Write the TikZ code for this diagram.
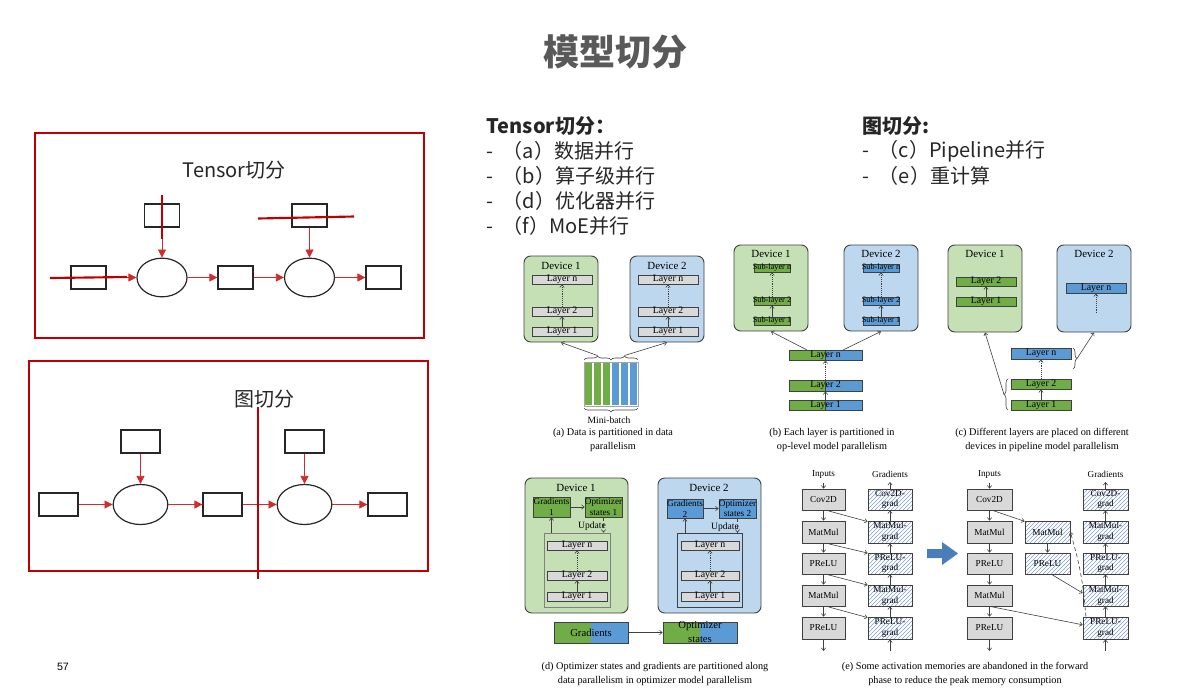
\documentclass[tikz,border=0pt]{standalone}
\usepackage{fontspec}
\setmainfont{Liberation Serif}
\newfontfamily\cjk{Noto Sans CJK SC}
\newfontfamily\arial{Liberation Sans}
\usetikzlibrary{arrows.meta,shapes.geometric,fit,patterns,decorations.pathreplacing,calc}
\definecolor{dkred}{HTML}{C00000}
\definecolor{arred}{HTML}{D22B2B}
\definecolor{devg}{HTML}{C5E0B4}
\definecolor{devb}{HTML}{BDD7EE}
\definecolor{barg}{HTML}{70AD47}
\definecolor{barb}{HTML}{5B9BD5}
\definecolor{lgray}{HTML}{D9D9D9}
\definecolor{edge}{HTML}{404040}
\definecolor{hatchc}{HTML}{7F9FCF}
\definecolor{titlec}{HTML}{595959}
\definecolor{txt}{HTML}{262626}
\definecolor{bigarr}{HTML}{4A7EBB}
\newcommand\fsz[2]{\fontsize{#1}{#2}\selectfont}
\tikzset{
  redframe/.style={draw=dkred, line width=1pt, inner sep=0pt},
  cbox/.style={draw=black!85, line width=0.9pt, fill=white, inner sep=0pt},
  ell/.style={ellipse, draw=black!85, line width=0.9pt, inner sep=0pt},
  rarr/.style={draw=arred, line width=0.6pt, -{Triangle[length=6pt,width=6pt]}},
  cutline/.style={draw=dkred, line width=1.6pt},
  lst/.style={anchor=west, font=\cjk\fsz{15}{18}, text=txt},
  dev/.style={draw=edge, line width=0.7pt, rounded corners=5pt, inner sep=0pt},
  devt/.style={font=\fsz{8.2}{9}},
  lay/.style={draw=edge, line width=0.5pt, inner sep=0pt},
  sarr/.style={draw=edge, line width=0.45pt, -{Straight Barb[length=2pt,width=3.2pt]}},
  dotarr/.style={sarr, densely dotted},
  hatchbox/.style={lay, pattern=north east lines, pattern color=hatchc},
  brc/.style={draw=edge, line width=0.45pt, decorate, decoration={brace, amplitude=3pt}},
  Lbl/.style={label={[font=\fsz{7.4}{8.2}, align=center, inner sep=0pt]center:#1}},
  Ebl/.style={label={[font=\fsz{6.9}{8}, align=center, inner sep=0pt]center:#1}},
  Sbl/.style={label={[font=\fsz{6.2}{7}, align=center, inner sep=0pt]center:#1}},
  Bbl/.style={label={[font=\fsz{8}{10.5}, align=center, inner sep=0pt]center:#1}},
  captxt/.style={font=\fsz{7.7}{10.5}, align=center},
}
\begin{document}
\begin{tikzpicture}[x=0.75pt,y=-0.75pt]
\useasboundingbox (0,0) rectangle (1202,689);

\node[font=\cjk\bfseries\fsz{27}{30}, text=titlec] (title) at (615,52) {模型切分};

% ---------- left box 1 : Tensor ----------
\node[redframe, fit={(35,133)(424,338)}] (fr1) {};
\node[font=\cjk\fsz{15}{18}, text=txt] (lab1) at (234,170) {Tensor切分};
\node[cbox, fit={(144.5,204)(179.5,227)}] (a1t) {};
\node[cbox, fit={(71,266)(106,289)}] (a1l) {};
\node[cbox, fit={(218,266)(253,289)}] (a1m) {};
\node[cbox, fit={(292,204)(327,227)}] (a2t) {};
\node[cbox, fit={(366,266)(401,289)}] (a1r) {};
\node[ell, minimum width=37.5pt, minimum height=29pt] (a1e) at (162,277.5) {};
\node[ell, minimum width=37.5pt, minimum height=29pt] (a2e) at (309.5,277.5) {};
\draw[rarr] (a1l) -- (a1e);
\draw[rarr] (a1t) -- (a1e);
\draw[rarr] (a1e) -- (a1m);
\draw[rarr] (a1m) -- (a2e);
\draw[rarr] (a2t) -- (a2e);
\draw[rarr] (a2e) -- (a1r);
\draw[cutline] (162,195) -- (162,239);
\draw[cutline] (50,278) -- (127,277);
\draw[cutline] (258,218.5) -- (354,216.5);

% ---------- left box 2 : graph ----------
\node[redframe, fit={(29,361)(428,571)}] (fr2) {};
\node[font=\cjk\fsz{15}{18}, text=txt] (lab2) at (264,399) {图切分};
\node[cbox, fit={(121,430)(160,453)}] (b1t) {};
\node[cbox, fit={(39,493)(78,516)}] (b1l) {};
\node[cbox, fit={(203,493)(242,516)}] (b1m) {};
\node[cbox, fit={(285,430)(324,453)}] (b2t) {};
\node[cbox, fit={(368,493)(407,516)}] (b1r) {};
\node[ell, minimum width=41pt, minimum height=30pt] (b1e) at (140.5,504.5) {};
\node[ell, minimum width=41pt, minimum height=30pt] (b2e) at (304.5,504.5) {};
\draw[rarr] (b1l) -- (b1e);
\draw[rarr] (b1t) -- (b1e);
\draw[rarr] (b1e) -- (b1m);
\draw[rarr] (b1m) -- (b2e);
\draw[rarr] (b2t) -- (b2e);
\draw[rarr] (b2e) -- (b1r);
\draw[cutline] (258,407) -- (258,579);

% ---------- lists ----------
\node[lst, font=\cjk\bfseries\fsz{15}{18}] (h1) at (482,126) {Tensor切分：};
\node[lst] (i1) at (482,151) {-\hspace{7pt}（a）数据并行};
\node[lst] (i2) at (482,176) {-\hspace{7pt}（b）算子级并行};
\node[lst] (i3) at (482,201) {-\hspace{7pt}（d）优化器并行};
\node[lst] (i4) at (482,226) {-\hspace{7pt}（f）MoE并行};
\node[lst, font=\cjk\bfseries\fsz{15}{18}] (h2) at (858,126) {图切分:};
\node[lst] (j1) at (858,151) {-\hspace{7pt}（c）Pipeline并行};
\node[lst] (j2) at (858,176) {-\hspace{7pt}（e）重计算};

\node[font=\arial\fsz{8}{9}] (pg) at (63,667) {57};

% ---------- panel (a) ----------
\node[dev, fill=devg, fit={(524,256)(598,342)}] (aD1) {};
\node[devt] (aD1t) at (561,266) {Device 1};
\node[lay, fill=lgray, fit={(532,275)(592,284)}, Lbl={Layer n}] (aD1n) {};
\node[lay, fill=lgray, fit={(532,307)(592,316)}, Lbl={Layer 2}] (aD1b) {};
\node[lay, fill=lgray, fit={(532,327)(592,336)}, Lbl={Layer 1}] (aD1a) {};
\draw[sarr] (aD1a) -- (aD1b);
\draw[dotarr] (aD1b) -- (aD1n);
\node[dev, fill=devb, fit={(630,256)(704,342)}] (aD2) {};
\node[devt] (aD2t) at (667,266) {Device 2};
\node[lay, fill=lgray, fit={(638,275)(698,284)}, Lbl={Layer n}] (aD2n) {};
\node[lay, fill=lgray, fit={(638,307)(698,316)}, Lbl={Layer 2}] (aD2b) {};
\node[lay, fill=lgray, fit={(638,327)(698,336)}, Lbl={Layer 1}] (aD2a) {};
\draw[sarr] (aD2a) -- (aD2b);
\draw[dotarr] (aD2b) -- (aD2n);
\foreach \i in {0,1,2} {
  \draw[fill=barg, draw=white, line width=0.8pt] ({584+9*\i},362) rectangle ({593+9*\i},406);
  \draw[fill=barb, draw=white, line width=0.8pt] ({611+9*\i},362) rectangle ({620+9*\i},406);
}
\node[draw=gray!70, line width=0.4pt, inner sep=0pt, fit={(584,362)(638,406)}] (mb) {};
\draw[brc] (584,360) -- (611,360);
\draw[brc] (611,360) -- (638,360);
\draw[brc] (638,408) -- (584,408);
\coordinate (abr1) at (597.5,355.5);
\coordinate (abr2) at (624.5,355.5);
\draw[sarr] (abr1) -- (aD1.south);
\draw[sarr] (abr2) -- (aD2.south);
\node[font=\fsz{7.2}{8}] (mbl) at (609,420) {Mini-batch};
\node[captxt] (capa) at (613,440) {(a) Data is partitioned in data\\parallelism};

% ---------- panel (b) ----------
\node[dev, fill=devg, fit={(734,245)(808,331)}] (bD1) {};
\node[devt] (bD1t) at (771,254) {Device 1};
\node[lay, fill=barg, fit={(754,264)(790,272)}, Sbl={Sub-layer n}] (bD1n) {};
\node[lay, fill=barg, fit={(754,297)(790,305)}, Sbl={Sub-layer 2}] (bD1b) {};
\node[lay, fill=barg, fit={(754,317)(790,325)}, Sbl={Sub-layer 1}] (bD1a) {};
\draw[sarr] (bD1a) -- (bD1b);
\draw[dotarr] (bD1b) -- (bD1n);
\node[dev, fill=devb, fit={(844,245)(918,331)}] (bD2) {};
\node[devt] (bD2t) at (881,254) {Device 2};
\node[lay, fill=barb, fit={(863,264)(899,272)}, Sbl={Sub-layer n}] (bD2n) {};
\node[lay, fill=barb, fit={(863,297)(899,305)}, Sbl={Sub-layer 2}] (bD2b) {};
\node[lay, fill=barb, fit={(863,317)(899,325)}, Sbl={Sub-layer 1}] (bD2a) {};
\draw[sarr] (bD2a) -- (bD2b);
\draw[dotarr] (bD2b) -- (bD2n);
\fill[barg] (789,350) rectangle (825,360); \fill[barb] (825,350) rectangle (862,360);
\fill[barg] (789,380) rectangle (825,391); \fill[barb] (825,380) rectangle (862,391);
\fill[barg] (789,400) rectangle (825,410); \fill[barb] (825,400) rectangle (862,410);
\node[lay, fit={(789,350)(862,360)}, Lbl={Layer n}] (bLn) {};
\node[lay, fit={(789,380)(862,391)}, Lbl={Layer 2}] (bL2) {};
\node[lay, fit={(789,400)(862,410)}, Lbl={Layer 1}] (bL1) {};
\draw[edge, line width=0.9pt] (bLn.north) -- (bLn.south);
\draw[edge, line width=0.9pt] (bL2.north) -- (bL2.south);
\draw[edge, line width=0.9pt] (bL1.north) -- (bL1.south);
\draw[sarr] (bL1) -- (bL2);
\draw[dotarr] (bL2) -- (bLn);
\coordinate (bLnl) at (807,350);
\coordinate (bLnr) at (843,350);
\draw[sarr] (bLnl) -- (bD1.south);
\draw[sarr] (bLnr) -- (bD2.south);
\node[captxt] (capb) at (832,440) {(b) Each layer is partitioned in\\op-level model parallelism};

% ---------- panel (c) ----------
\node[dev, fill=devg, fit={(948,245)(1022,332)}] (cD1) {};
\node[devt] (cD1t) at (985,254) {Device 1};
\node[lay, fill=barg, fit={(956,277)(1016,286)}, Lbl={Layer 2}] (cD1b) {};
\node[lay, fill=barg, fit={(956,297)(1016,306)}, Lbl={Layer 1}] (cD1a) {};
\draw[sarr] (cD1a) -- (cD1b);
\node[dev, fill=devb, fit={(1057,245)(1131,332)}] (cD2) {};
\node[devt] (cD2t) at (1094,254) {Device 2};
\node[lay, fill=barb, fit={(1066,283)(1126,293)}, Lbl={Layer n}] (cD2n) {};
\coordinate (cdots) at (1096,313);
\draw[dotarr] (cdots) -- (cD2n.south);
\node[lay, fill=barb, fit={(1011,348)(1071,359)}, Lbl={Layer n}] (cLn) {};
\node[lay, fill=barg, fit={(1011,379)(1071,389)}, Lbl={Layer 2}] (cL2) {};
\node[lay, fill=barg, fit={(1011,400)(1071,410)}, Lbl={Layer 1}] (cL1) {};
\draw[sarr] (cL1) -- (cL2);
\draw[dotarr] (cL2) -- (cLn);
\draw[brc] (1008,410) -- (1008,379);
\draw[brc] (1073,348) -- (1073,369);
\coordinate (cbl) at (1004,394.5);
\coordinate (cbr) at (1077,358.5);
\draw[sarr] (cbl) -- (cD1.south);
\draw[sarr] (cbr) -- (cD2.south);
\node[captxt] (capc) at (1042,440) {(c) Different layers are placed on different\\devices in pipeline model parallelism};

% ---------- panel (d) ----------
\node[dev, fill=devg, fit={(525,478)(628,613)}] (dD1) {};
\node[devt] (dD1t) at (576,488) {Device 1};
\node[lay, fill=barg, fit={(533,497)(570,517)}, Ebl={Gradients\\1}] (dG1) {};
\node[lay, fill=barg, fit={(585,497)(622,517)}, Ebl={Optimizer\\states 1}] (dO1) {};
\draw[sarr] (dG1) -- (dO1);
\node[font=\fsz{7.2}{8}] (dU1) at (592,526) {Update};
\node[draw=gray, line width=0.5pt, inner sep=0pt, fit={(544,533)(610,607)}] (dC1) {};
\node[lay, fill=lgray, fit={(547,541)(607,550)}, Lbl={Layer n}] (dL1n) {};
\node[lay, fill=lgray, fit={(547,571)(607,580)}, Lbl={Layer 2}] (dL1b) {};
\node[lay, fill=lgray, fit={(547,592)(607,601)}, Lbl={Layer 1}] (dL1a) {};
\draw[sarr] (dL1a) -- (dL1b);
\draw[dotarr] (dL1b) -- (dL1n);
\draw[sarr] (dC1.north -| dG1.south) -- (dG1.south);
\draw[sarr, densely dashed] (dO1.south) -- (dC1.north -| dO1.south);
\node[dev, fill=devb, fit={(658,478)(761,613)}] (dD2) {};
\node[devt] (dD2t) at (709,488) {Device 2};
\node[lay, fill=barb, fit={(667,499)(703,518)}, Ebl={Gradients\\2}] (dG2) {};
\node[lay, fill=barb, fit={(719,499)(756,518)}, Ebl={Optimizer\\states 2}] (dO2) {};
\draw[sarr] (dG2) -- (dO2);
\node[font=\fsz{7.2}{8}] (dU2) at (725,527) {Update};
\node[draw=edge, line width=0.5pt, inner sep=0pt, fit={(677,533)(742,607)}] (dC2) {};
\node[lay, fill=lgray, fit={(681,541)(739,550)}, Lbl={Layer n}] (dL2n) {};
\node[lay, fill=lgray, fit={(681,571)(739,580)}, Lbl={Layer 2}] (dL2b) {};
\node[lay, fill=lgray, fit={(681,592)(739,601)}, Lbl={Layer 1}] (dL2a) {};
\draw[sarr] (dL2a) -- (dL2b);
\draw[dotarr] (dL2b) -- (dL2n);
\draw[sarr] (dC2.north -| dG2.south) -- (dG2.south);
\draw[sarr, densely dashed] (dO2.south) -- (dC2.north -| dO2.south);
\fill[barg] (554,622) rectangle (591,643); \fill[barb] (591,622) rectangle (628,643);
\fill[barg] (663,622) rectangle (700,643); \fill[barb] (700,622) rectangle (737,643);
\node[lay, fit={(554,622)(628,643)}, Bbl={Gradients}] (dGb) {};
\node[lay, fit={(663,622)(737,643)}, Bbl={Optimizer\\states}] (dOb) {};
\draw[sarr] (dGb) -- (dOb);
\node[captxt] (capd) at (655,674) {(d) Optimizer states and gradients are partitioned along\\data parallelism in optimizer model parallelism};

% ---------- panel (e) ----------
\node[font=\fsz{6.9}{8}] (eIn) at (823.5,474) {Inputs};
\node[lay, fill=lgray, fit={(802,489)(845,510)}, Ebl={Cov2D}] (eF1) {};
\node[lay, fill=lgray, fit={(802,521)(845,543)}, Ebl={MatMul}] (eF2) {};
\node[lay, fill=lgray, fit={(802,553)(845,574)}, Ebl={PReLU}] (eF3) {};
\node[lay, fill=lgray, fit={(802,585)(845,606)}, Ebl={MatMul}] (eF4) {};
\node[lay, fill=lgray, fit={(802,617)(845,639)}, Ebl={PReLU}] (eF5) {};
\coordinate (eOut) at (823.5,651);
\draw[sarr] (eIn) -- (eF1);
\draw[sarr] (eF1) -- (eF2);
\draw[sarr] (eF2) -- (eF3);
\draw[sarr] (eF3) -- (eF4);
\draw[sarr] (eF4) -- (eF5);
\draw[sarr] (eF5) -- (eOut);
\node[font=\fsz{6.9}{8}] (eGr) at (890,474) {Gradients};
\node[hatchbox, fit={(868,489)(912,510)}, Ebl={Cov2D-\\grad}] (eG1) {};
\node[hatchbox, fit={(868,521)(912,543)}, Ebl={MatMul-\\grad}] (eG2) {};
\node[hatchbox, fit={(868,553)(912,574)}, Ebl={PReLU-\\grad}] (eG3) {};
\node[hatchbox, fit={(868,585)(912,606)}, Ebl={MatMul-\\grad}] (eG4) {};
\node[hatchbox, fit={(868,617)(912,639)}, Ebl={PReLU-\\grad}] (eG5) {};
\coordinate (eGin) at (890,651);
\draw[sarr] (eGin) -- (eG5);
\draw[sarr] (eG5) -- (eG4);
\draw[sarr] (eG4) -- (eG3);
\draw[sarr] (eG3) -- (eG2);
\draw[sarr] (eG2) -- (eG1);
\draw[sarr] (eG1) -- (eGr);
\draw[sarr] (eF1.-75) -- (eG2.155);
\draw[sarr] (eF2.-75) -- (eG3.155);
\draw[sarr] (eF3.-75) -- (eG4.155);
\draw[sarr] (eF4.-75) -- (eG5.155);

\fill[bigarr] (927,549) -- (942,549) -- (942,542) -- (958,553.5) -- (942,565) -- (942,558) -- (927,558) -- cycle;

\node[font=\fsz{6.9}{8}] (rIn) at (989.5,474) {Inputs};
\node[lay, fill=lgray, fit={(967,489)(1012,510)}, Ebl={Cov2D}] (rF1) {};
\node[lay, fill=lgray, fit={(967,521)(1012,543)}, Ebl={MatMul}] (rF2) {};
\node[lay, fill=lgray, fit={(967,553)(1012,574)}, Ebl={PReLU}] (rF3) {};
\node[lay, fill=lgray, fit={(967,585)(1012,606)}, Ebl={MatMul}] (rF4) {};
\node[lay, fill=lgray, fit={(967,617)(1012,639)}, Ebl={PReLU}] (rF5) {};
\coordinate (rOut) at (989.5,651);
\draw[sarr] (rIn) -- (rF1);
\draw[sarr] (rF1) -- (rF2);
\draw[sarr] (rF2) -- (rF3);
\draw[sarr] (rF3) -- (rF4);
\draw[sarr] (rF4) -- (rF5);
\draw[sarr] (rF5) -- (rOut);
\node[hatchbox, fit={(1025,521)(1070,543)}, Ebl={MatMul}] (hM) {};
\node[hatchbox, fit={(1025,553)(1070,574)}, Ebl={PReLU}] (hP) {};
\draw[sarr] (hM) -- (hP);
\node[font=\fsz{6.9}{8}] (rGr) at (1105.5,474) {Gradients};
\node[hatchbox, fit={(1083,489)(1128,510)}, Ebl={Cov2D-\\grad}] (rG1) {};
\node[hatchbox, fit={(1083,521)(1128,543)}, Ebl={MatMul-\\grad}] (rG2) {};
\node[hatchbox, fit={(1083,553)(1128,574)}, Ebl={PReLU-\\grad}] (rG3) {};
\node[hatchbox, fit={(1083,585)(1128,606)}, Ebl={MatMul-\\grad}] (rG4) {};
\node[hatchbox, fit={(1083,617)(1128,639)}, Ebl={PReLU-\\grad}] (rG5) {};
\coordinate (rGin) at (1105.5,651);
\draw[sarr] (rGin) -- (rG5);
\draw[sarr] (rG5) -- (rG4);
\draw[sarr] (rG4) -- (rG3);
\draw[sarr] (rG3) -- (rG2);
\draw[sarr] (rG2) -- (rG1);
\draw[sarr] (rG1) -- (rGr);
\draw[sarr] (rF1.-75) -- (hM.155);
\draw[sarr] (hP.-70) -- (rG4.174);
\draw[sarr] (rF4.south) -- (rG5.172);
\draw[sarr, densely dashed] (rG5.150) to[bend right=6] (hM.east);
\node[captxt] (cape) at (965,673.5) {(e) Some activation memories are abandoned in the forward\\phase to reduce the peak memory consumption};
\end{tikzpicture}
\end{document}
